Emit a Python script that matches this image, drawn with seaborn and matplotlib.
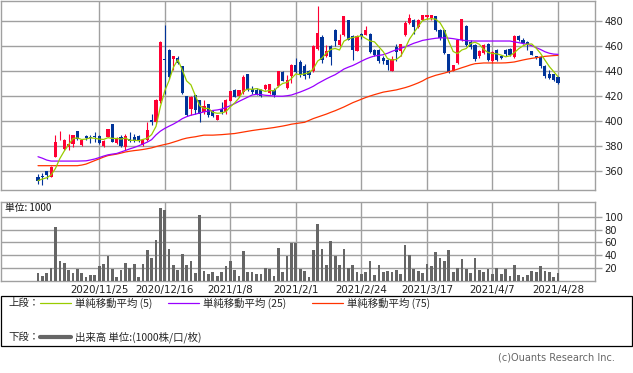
import numpy as np
import pandas as pd
import seaborn as sns
import matplotlib.pyplot as plt
from matplotlib.patches import Rectangle
from matplotlib.lines import Line2D

# daily candles (oldest first)
open_ = [355.5, 356, 359.7, 355.5, 371.5, 391, 378, 379, 381.6, 392,
         380.8, 388.3, 387.5, 388, 388.3, 380.3, 387.5, 397.6, 382.9, 387.5,
         379.5, 386, 387.5, 388, 380.5, 385, 400.8, 399.5, 416, 449.5,
         457.3, 450, 451, 444, 420, 410.1, 420.8, 416.8, 407.5, 413.6,
         408, 401.3, 409.6, 407.5, 416.5, 424.8, 420, 423.5, 437.6, 426,
         424.8, 425.3, 426, 422.7, 425.3, 428, 439.5, 426.9, 436.3, 445.3,
         447.5, 444.5, 440, 440, 458, 467.5, 452, 460, 473.3, 460.8,
         469.3, 480.8, 468, 456.3, 470.1, 469.3, 470.1, 457.3, 456.8, 451,
         448.8, 440.3, 459.5, 456.3, 469.3, 478.7, 480.8, 475.5, 481.3, 483.5,
         483, 484, 473.3, 472.8, 453.6, 440.3, 446.7, 464.8, 476, 463.5,
         460.8, 452, 454.7, 462.1, 448.3, 457.3, 452, 456.8, 458, 451.5,
         468, 465.3, 463.5, 456.3, 452, 451.5, 444.3, 438.1, 437.6, 435.5]
high = [357.6, 358.7, 360, 364, 388.8, 392, 386, 389.6, 389, 392.5,
        386, 389, 389, 391.2, 389, 384.8, 394, 397.6, 387.5, 388.8,
        389.5, 391.5, 390, 389, 385.8, 399.5, 406, 417.6, 464.3, 476.8,
        458, 452, 452, 444.5, 420, 420, 420.8, 417.3, 417.3, 414,
        408, 405, 415.5, 418, 424.5, 425.9, 425, 436.8, 438, 428.5,
        427, 425.5, 430, 430, 427, 440.3, 440, 436.8, 446, 450.7,
        448.8, 446, 441, 461, 492, 469, 460.8, 461, 474, 469.6,
        484.5, 481, 469, 469, 471, 476, 471, 458, 458, 452.5,
        450, 452, 462, 462, 480.5, 486, 482, 482, 485, 485,
        485, 484.5, 474, 473.5, 454, 445, 465.5, 482, 477, 465,
        462, 457, 462, 463, 456, 458, 453, 458, 459, 469,
        469, 466.5, 464.5, 456.5, 452.5, 452, 445, 441, 438, 436]
low = [349.6, 348.5, 353.3, 355, 371, 384.8, 376.8, 376.8, 379, 384.8,
       380, 384.8, 382.7, 383.5, 381.6, 379.5, 387, 383, 382, 379.5,
       376.5, 383.5, 383.5, 383, 380, 384.5, 396.8, 397.6, 414.7, 422,
       434, 441.3, 446, 422, 404, 404.8, 406, 399.5, 406, 403.5,
       403, 401, 406, 406, 416, 419, 419, 422, 424, 422,
       420.8, 419.5, 425.3, 422, 419.5, 427.5, 432, 426, 431, 438.7,
       435.5, 434, 435, 439.5, 457, 447, 451.5, 445, 460, 460,
       468, 465, 449, 456, 466, 469, 455, 452, 447, 446,
       441, 440, 448, 452, 468, 478, 470, 475, 481, 482,
       481, 472, 465, 453.6, 439, 440, 446, 464, 460, 458,
       448, 451, 454, 448, 447, 448, 450, 452, 452, 451,
       464, 462, 457, 453, 450, 443, 435, 434, 432, 430]
close = [352.3, 355, 356.5, 363.5, 383.5, 391.7, 384.8, 381.6, 388.8, 386,
         385.3, 386.7, 386.4, 387, 382.7, 384, 393.6, 383.5, 386.7, 380.3,
         388.5, 384, 384, 385, 385.3, 393, 399, 416.8, 463.5, 449,
         435.5, 452, 446.7, 422.7, 404.8, 419.5, 408.8, 406.1, 412, 404.8,
         404, 404.8, 407.5, 417.3, 424, 419.5, 424.8, 435.5, 424.8, 423.5,
         422, 420, 428.8, 429.6, 420.8, 440, 432.3, 432.8, 445.3, 439.2,
         436.8, 436, 437, 460.5, 471, 448.8, 456, 451.5, 464.3, 464.8,
         484.3, 465.3, 456.8, 468, 468, 473.3, 455.5, 453.3, 448.3, 448.3,
         445.3, 450.1, 455.5, 461.6, 479, 482.9, 475.5, 481.3, 484.8, 484.8,
         484.8, 473.3, 467, 455, 439.5, 444.8, 464.8, 481.6, 460.8, 459.5,
         450.1, 456.3, 460.8, 448.8, 455.5, 448.8, 451, 454.1, 452.8, 468,
         464.8, 462.7, 460.8, 453.3, 451, 444, 436, 435, 432.8, 430.7]

# 25 / 75 day averages as drawn (they need history from before the window)
ma25 = [371.5, 370.3, 368.8, 368, 368, 368, 368, 368, 368, 368,
        368.1, 368.2, 368.9, 369.7, 370.8, 372, 373, 373.6, 374.1, 375.3,
        376.5, 377.8, 378.9, 380.2, 381.7, 383.2, 385.2, 389, 392, 394.2,
        396, 397.7, 399.7, 402, 403.6, 404.8, 405.6, 406.6, 407.5, 408.1,
        408.6, 409, 409.7, 411, 412.4, 414.1, 415.9, 417.6, 419.3, 421,
        421.5, 421.3, 420.8, 420.5, 420.2, 420, 420, 420.4, 421, 422.2,
        423.4, 424.8, 426.3, 428, 430.2, 432.1, 434, 435.7, 437.3, 439.5,
        441.8, 443.3, 444.6, 446.3, 448.1, 449.8, 451.2, 452.3, 452.8, 453.3,
        454.5, 456, 457.3, 458.5, 459.5, 461, 462.5, 463.6, 464.8, 465.4,
        466, 466.5, 466.8, 466.9, 466.6, 466.2, 465.6, 465, 464.6, 464.4,
        464.3, 464.3, 464.3, 464.3, 464.3, 464.3, 464.3, 464.3, 464.3, 463.6,
        463, 462.3, 461.6, 460.5, 459, 457.5, 455.7, 454.5, 453.8, 453.6]
ma75 = [364.3, 364.3, 364.3, 364.3, 364.3, 364.3, 364.3, 364.3, 364.3, 364.3,
        364.8, 365.6, 367, 368.4, 369.8, 371.2, 372.4, 373, 373.6, 374.4,
        375.3, 375.9, 376.4, 376.8, 377.3, 377.9, 378.6, 379.6, 380.5, 381.3,
        382.1, 383.2, 384.3, 385.5, 386.4, 387, 387.5, 388.2, 388.8, 388.8,
        388.8, 389, 389.2, 389.5, 389.8, 390.1, 390.7, 391.3, 391.9, 392.5,
        393, 393.5, 393.9, 394.4, 394.9, 395.5, 396.1, 396.8, 397.6, 398.1,
        398.6, 399.1, 400.6, 402.1, 403.3, 404.5, 405.7, 407.1, 408.4, 409.9,
        411.4, 413.1, 414.8, 416.2, 417.6, 419, 420.2, 421.3, 422.3, 423.3,
        423.9, 424.5, 425.1, 426, 426.9, 428, 429.3, 430.7, 432.3, 434.3,
        435.6, 436.8, 437.7, 438.6, 439.6, 440.6, 441.7, 442.9, 444, 445.2,
        446.1, 446.4, 446.7, 446.7, 446.7, 446.7, 446.7, 446.8, 447.1, 447.5,
        448.3, 449.1, 449.8, 450.4, 450.9, 451.5, 452, 452.3, 452.6, 452.8]

# volume in 1000 shares
volume = [11.8, 7.7, 11.8, 19.5, 83.6, 30.8, 28.2, 16.9, 12.8, 18.5,
          11.8, 5.6, 9.2, 9.2, 23, 26.2, 38.5, 18.5, 5.6, 16.9,
          28.2, 21, 26.2, 5.6, 26.2, 47.7, 35.4, 64.6, 113.8, 110.8,
          49.2, 24.6, 16.9, 41.5, 24.6, 30.8, 12.8, 103, 15.4, 10.8,
          13.9, 7.7, 13.9, 23, 30.8, 17, 7.7, 46, 13.9, 13.9,
          10.8, 10.8, 19.5, 19, 7.7, 50.8, 13.9, 38.5, 59.5, 59,
          18.5, 15.4, 6.2, 47.7, 89.3, 49.2, 24.6, 63, 38.5, 24.6,
          49.2, 19.5, 24.6, 14.4, 10.8, 14.4, 30.8, 9.2, 24.6, 13.9,
          15.4, 13.9, 17, 10.8, 55.4, 40, 18.5, 15.4, 12.3, 26.2,
          23, 44.6, 36, 30.8, 47.7, 13.9, 20, 33.9, 19, 12.3,
          35.4, 17, 13.9, 18.5, 10.8, 20, 10.8, 18.5, 7.7, 24.6,
          9.2, 6.2, 9.2, 15.4, 13.9, 23, 15.4, 13.9, 6.2, 12.8]

date_labels = ["2020/11/25", "2020/12/16", "2021/1/8", "2021/2/1",
               "2021/2/24", "2021/3/17", "2021/4/7", "2021/4/28"]
date_idx = [14, 29, 44, 59, 74, 89, 104, 119]   # candle index of each label

RED, BLUE = "#ff0033", "#003399"
C5, C25, C75 = "#99cc00", "#9900ff", "#ff3300"
GRID = "#a0a0a0"
VOLC = "#666666"
CJK = ["Noto Sans CJK JP", "DejaVu Sans"]

sns.set_theme(style="white")
plt.rcParams["font.family"] = CJK

W, H = 633, 373
fx = lambda px: px / W
fy = lambda py: 1 - py / H

fig = plt.figure(figsize=(W / 100, H / 100), dpi=100)
ax = fig.add_axes([fx(1), fy(190), fx(594), 189.5 / H])
axv = fig.add_axes([fx(1), fy(281), fx(594), 79 / H])

x = np.arange(len(close))
o = np.array(open_)
c = np.array(close)
cols = np.where(c >= o, RED, BLUE)

# candles
ax.vlines(x, low, high, colors=cols, lw=0.8, zorder=3)
body = np.maximum(np.abs(c - o), 0.6)
ax.bar(x, body, bottom=np.minimum(o, c), width=0.72, color=cols, linewidth=0, zorder=3)

# moving averages
df = pd.DataFrame({"i": x, "ma5": pd.Series(close).rolling(5, min_periods=1).mean(),
                   "ma25": ma25, "ma75": ma75})
sns.lineplot(data=df, x="i", y="ma75", ax=ax, color=C75, lw=0.9, zorder=4)
sns.lineplot(data=df, x="i", y="ma25", ax=ax, color=C25, lw=0.9, zorder=4)
sns.lineplot(data=df, x="i", y="ma5", ax=ax, color=C5, lw=0.9, zorder=5)

# volume
axv.bar(x, volume, width=0.62, color=VOLC, linewidth=0, zorder=3)

for a in (ax, axv):
    a.set_xlim(-8.47, 127.46)
    a.set_xlabel("")
    a.set_ylabel("")
    for s in a.spines.values():
        s.set_color(GRID)
        s.set_linewidth(1)
        s.set_visible(True)
    a.yaxis.tick_right()
    a.tick_params(axis="y", length=5, width=1, color=GRID, pad=2,
                  labelsize=7.2, labelcolor="#222222", right=True, left=False)
    a.tick_params(axis="x", length=0, bottom=False)
    a.grid(True, color=GRID, lw=1, zorder=0)
    a.set_axisbelow(True)
    a.set_xticks(date_idx)
    a.set_facecolor("white")

ax.set_ylim(344.8, 496.8)
ax.set_yticks(range(360, 481, 20))
ax.set_xticklabels([])
axv.set_ylim(0, 123)
axv.set_yticks([20, 40, 60, 80, 100])
axv.set_xticklabels(date_labels, fontsize=7.4, color="#222222")
axv.tick_params(axis="x", pad=3)
for t in ax.get_yticklabels() + axv.get_yticklabels() + axv.get_xticklabels():
    t.set_family(["DejaVu Sans"])

fig.text(fx(5), fy(208), "単位: 1000", fontsize=7, va="center", color="#111111", family=CJK)

# legend box
fig.add_artist(Rectangle((fx(0.5), fy(346)), fx(631.5), (346 - 295.5) / H,
                         transform=fig.transFigure, fill=False, edgecolor="black", lw=0.9))
ly1, ly2 = 303, 337
fig.text(fx(8), fy(ly1), "上段：", fontsize=7.5, va="center", family=CJK)
fig.text(fx(8), fy(ly2), "下段：", fontsize=7.5, va="center", family=CJK)
for x0, col, lab in [(40, C5, "単純移動平均 (5)"), (168, C25, "単純移動平均 (25)"),
                     (312, C75, "単純移動平均 (75)")]:
    fig.add_artist(Line2D([fx(x0), fx(x0 + 31)], [fy(ly1), fy(ly1)], color=col, lw=0.9,
                          transform=fig.transFigure))
    fig.text(fx(x0 + 35), fy(ly1), lab, fontsize=7.5, va="center", family=CJK)
fig.add_artist(Line2D([fx(40), fx(71)], [fy(ly2), fy(ly2)], color=VOLC, lw=3,
                      transform=fig.transFigure))
fig.text(fx(75), fy(ly2), "出来高 単位:(1000株/口/枚)", fontsize=7.5, va="center", family=CJK)

fig.text(fx(615), fy(358), "(c)Ouants Research Inc.", fontsize=7, ha="right", va="center",
         color="#666666", family=["DejaVu Sans"])

fig.savefig("out.png", dpi=100)
